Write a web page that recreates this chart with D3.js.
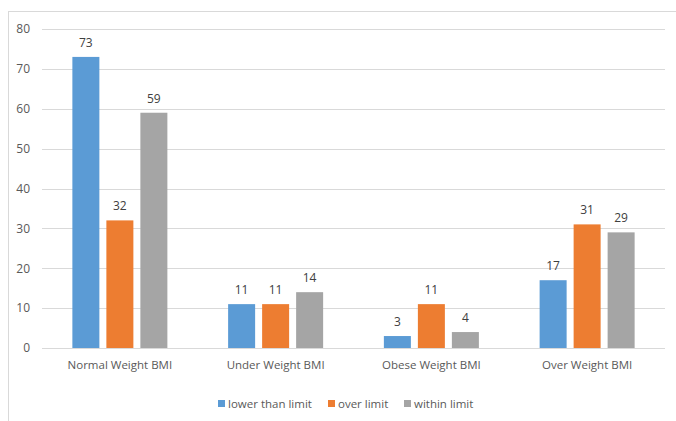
<!DOCTYPE html>
<html><head><meta charset="utf-8">
<script src="https://cdn.jsdelivr.net/npm/d3@7"></script>
<style>html,body{margin:0;padding:0;background:#fff;}svg{display:block;}</style>
</head><body>
<svg id="c" width="676" height="421"></svg>
<script>
const categories = ["Normal Weight BMI","Under Weight BMI","Obese Weight BMI","Over Weight BMI"];
const seriesNames = ["lower than limit","over limit","within limit"];
const lowerThanLimit = [73, 11, 3, 17];
const overLimit = [32, 11, 11, 31];
const withinLimit = [59, 14, 4, 29];
const yTicks = [0,10,20,30,40,50,60,70,80];
const colors = ["#5b9bd5","#ed7d31","#a5a5a5"];
const seriesValues = [lowerThanLimit, overLimit, withinLimit];

(function(){
const svg = d3.select("#c");
const font = "'Open Sans', 'Noto Sans', sans-serif";
const fs = "11.5px";
const pl = 42, pr = 665, pt = 29, pb = 348;

svg.append("rect").attr("x",8.5).attr("y",11.5).attr("width",700).attr("height",450)
  .attr("fill","none").attr("stroke","#d9d9d9").attr("stroke-width",1);

const y = d3.scaleLinear().domain([0,80]).range([pb, pt]);
const x0 = d3.scaleBand().domain(categories).range([pl,pr]).paddingInner(0.39).paddingOuter(0.195);
const x1 = d3.scaleBand().domain(seriesNames).range([0,x0.bandwidth()]).paddingInner(7/34).paddingOuter(0);

svg.append("g").selectAll("line").data(yTicks).join("line")
  .attr("x1",pl).attr("x2",pr)
  .attr("y1",d=>Math.round(y(d))+0.5).attr("y2",d=>Math.round(y(d))+0.5)
  .attr("stroke","#d9d9d9").attr("stroke-width",1);

const yAxis = d3.axisLeft(y).tickValues(yTicks).tickSize(0).tickPadding(0);
const gy = svg.append("g").attr("transform",`translate(30,0)`).call(yAxis);
gy.select(".domain").remove();
gy.selectAll("text").attr("fill","#595959").style("font-family",font).style("font-size","12px");

const groups = svg.append("g").selectAll("g").data(categories).join("g")
  .attr("transform",c=>`translate(${x0(c)},0)`);
const rows = (c,i)=>seriesNames.map((s,j)=>({s, j, v: seriesValues[j][i]}));
groups.selectAll("rect").data(rows).join("rect")
  .attr("x",d=>x1(d.s)).attr("width",x1.bandwidth())
  .attr("y",d=>y(d.v)).attr("height",d=>y(0)-y(d.v))
  .attr("fill",d=>colors[d.j]);
groups.selectAll("text").data(rows).join("text")
  .attr("x",d=>x1(d.s)+x1.bandwidth()/2).attr("y",d=>y(d.v)-10)
  .attr("text-anchor","middle").attr("fill","#404040")
  .style("font-family",font).style("font-size","12px").text(d=>d.v);

const xAxis = d3.axisBottom(x0).tickSize(0).tickPadding(0);
const gx = svg.append("g").attr("transform",`translate(0,${pb+13})`).call(xAxis);
gx.select(".domain").remove();
gx.selectAll("text").attr("fill","#595959").style("font-family",font).style("font-size",fs);

const legendX = [218, 328, 404];
const lg = svg.append("g").selectAll("g").data(seriesNames).join("g")
  .attr("transform",(d,i)=>`translate(${legendX[i]},400)`);
lg.append("rect").attr("width",7).attr("height",7).attr("fill",(d,i)=>colors[i]);
lg.append("text").attr("x",10).attr("y",8).attr("fill","#595959")
  .style("font-family",font).style("font-size",fs).text(d=>d);
})();
</script>
</body></html>
